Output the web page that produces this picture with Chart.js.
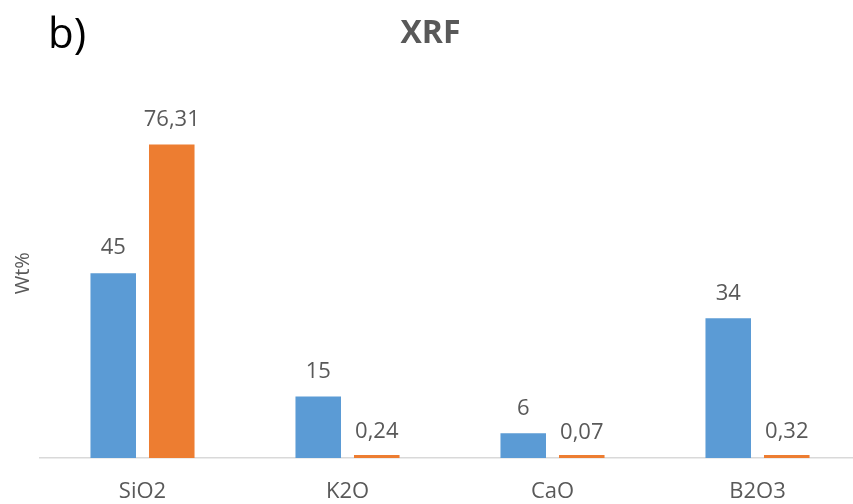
<!DOCTYPE html>
<html>
<head>
<meta charset="utf-8">
<script src="https://cdn.jsdelivr.net/npm/chart.js@4"></script>
<style>
  html, body { margin: 0; padding: 0; background: #fff; overflow: hidden; }
  #wrap { width: 853px; height: 504px; overflow: hidden; position: relative; }
  canvas { display: block; }
</style>
</head>
<body>
<div id="wrap"><canvas id="c" width="866" height="504"></canvas></div>
<script>
const categories = ["SiO2", "K2O", "CaO", "B2O3"];
const seriesA = [45, 15, 6, 34];
const seriesB = [76.31, 0.24, 0.07, 0.32];
const seriesNames = ["Series 1", "Series 2"];
const chartTitle = "XRF";
const panelLabel = "b)";
const yTitle = "Wt%";

const FONT = "'Open Sans', 'Liberation Sans', sans-serif";
const GREY = "#595959";

function fmt(v) { return String(v).replace('.', ','); }

const labelPlugin = {
  id: 'valueLabels',
  afterDatasetsDraw(chart) {
    const ctx = chart.ctx;
    const ys = chart.scales.y;
    ctx.save();
    ctx.fillStyle = GREY;
    ctx.font = "22px " + FONT;
    ctx.textAlign = 'center';
    ctx.textBaseline = 'middle';
    chart.data.datasets.forEach((ds, di) => {
      const meta = chart.getDatasetMeta(di);
      meta.data.forEach((el, i) => {
        ctx.fillText(fmt(ds.data[i]), el.x, ys.getPixelForValue(ds.data[i]) - 25);
      });
    });
    ctx.restore();
  },
  afterDraw(chart) {
    const ctx = chart.ctx;
    ctx.save();
    ctx.fillStyle = "#000";
    ctx.font = "42px " + FONT;
    ctx.textAlign = 'left';
    ctx.textBaseline = 'alphabetic';
    ctx.fillText(panelLabel, 48, 48);
    ctx.restore();
  }
};

new Chart(document.getElementById('c'), {
  type: 'bar',
  data: {
    labels: categories,
    datasets: [
      { label: seriesNames[0], data: seriesA, backgroundColor: "#5B9BD5" },
      { label: seriesNames[1], data: seriesB, backgroundColor: "#ED7D31", minBarLength: 3 }
    ]
  },
  options: {
    responsive: false,
    animation: false,
    categoryPercentage: 0.571,
    barPercentage: 0.778,
    layout: { padding: { left: 1, right: 6, top: 0, bottom: 0 } },
    plugins: {
      legend: { display: false },
      tooltip: { enabled: false },
      title: {
        display: true,
        text: chartTitle,
        color: GREY,
        font: { family: FONT, size: 32, weight: 'bold' },
        padding: { top: 15, bottom: 35 }
      }
    },
    scales: {
      x: {
        grid: { display: false, drawTicks: false },
        border: { display: true, color: "#d9d9d9", width: 1.5 },
        ticks: { color: GREY, font: { family: FONT, size: 22 }, padding: 21, maxRotation: 0 },
        afterFit(scale) { scale.height = 46; }
      },
      y: {
        min: 0,
        max: 90,
        grid: { display: false, drawTicks: false },
        border: { display: false },
        ticks: { display: false },
        title: {
          display: true,
          text: yTitle,
          color: GREY,
          font: { family: FONT, size: 20 },
          padding: { top: 10, bottom: 0 }
        },
        afterFit(scale) { scale.width = 39; }
      }
    }
  },
  plugins: [labelPlugin]
});
</script>
</body>
</html>
